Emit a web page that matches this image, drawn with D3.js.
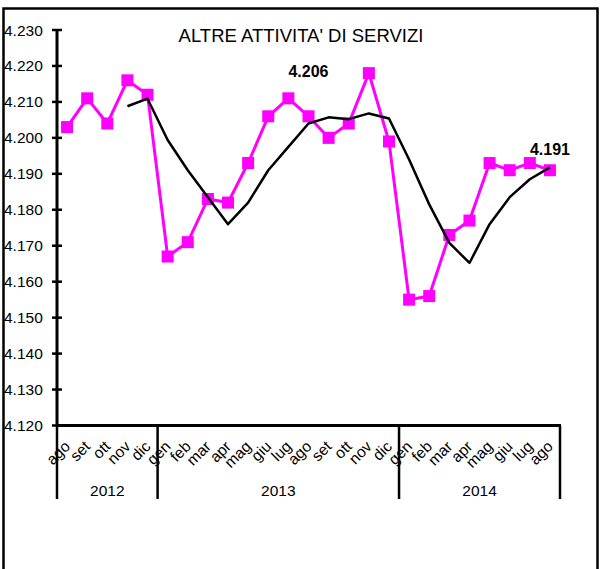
<!DOCTYPE html>
<html lang="it">
<head>
<meta charset="utf-8" />
<title>Altre attività di servizi</title>
<script src="https://d3js.org/d3.v7.min.js"></script>
<style>
  html, body { margin:0; padding:0; background:#fff; }
  svg { display:block; font-family: "Liberation Sans", Arial, sans-serif; }
</style>
</head>
<body>
<svg id="svg" width="601" height="569"></svg>
<script>
// months from ago 2012 to ago 2014
const months = ["ago","set","ott","nov","dic",
  "gen","feb","mar","apr","mag","giu","lug","ago","set","ott","nov","dic",
  "gen","feb","mar","apr","mag","giu","lug","ago"];
const years = [
  {label: "2012", from: 0, to: 5},
  {label: "2013", from: 5, to: 17},
  {label: "2014", from: 17, to: 25}
];
// monthly values (pink)
const values = [4.203, 4.211, 4.204, 4.216, 4.212,
  4.167, 4.171, 4.183, 4.182, 4.193, 4.206, 4.211, 4.206, 4.200, 4.204, 4.218, 4.199,
  4.155, 4.156, 4.173, 4.177, 4.193, 4.191, 4.193, 4.191];
// moving average (black), starts at nov 2012
const trend = [null, null, null, 4.2088, 4.2109,
  4.1994, 4.1910, 4.1835, 4.1760, 4.1820, 4.1910, 4.1975, 4.2040, 4.2057, 4.2052, 4.2068, 4.2054,
  4.1940, 4.1815, 4.1708, 4.1652, 4.1760, 4.1835, 4.1885, 4.1918];
const yTicks = d3.range(4.120, 4.2301, 0.010);
// labelled values, placed above their points
const notes = [{i: 12, text: "4.206", at: 4.2168}, {i: 24, text: "4.191", at: 4.1952}];

const svg = d3.select("#svg");
const mLeft = 57, mRight = 560, mTop = 30, mBottom = 425.5;

const x = d3.scaleBand().domain(d3.range(months.length)).range([mLeft, mRight]);
const y = d3.scaleLinear().domain([4.120, 4.230]).range([mBottom, mTop]);
const cx = i => x(i) + x.bandwidth() / 2;

// outer frame
svg.append("rect")
  .attr("x", 3.5).attr("y", 8.5).attr("width", 594).attr("height", 580)
  .attr("fill", "none").attr("stroke", "#000").attr("stroke-width", 2.5);

// title
svg.append("text")
  .attr("x", 301).attr("y", 42)
  .attr("text-anchor", "middle")
  .attr("font-size", 18.5)
  .text("ALTRE ATTIVITA'  DI SERVIZI");

// y axis
const yAxis = svg.append("g");
yAxis.append("line")
  .attr("x1", mLeft).attr("x2", mLeft).attr("y1", mTop).attr("y2", mBottom)
  .attr("stroke", "#000").attr("stroke-width", 3);
yAxis.selectAll("line.tk").data(yTicks).join("line")
  .attr("class", "tk")
  .attr("x1", mLeft - 5).attr("x2", mLeft + 5)
  .attr("y1", d => y(d)).attr("y2", d => y(d))
  .attr("stroke", "#000").attr("stroke-width", 2.5);
yAxis.selectAll("text.lab").data(yTicks).join("text")
  .attr("class", "lab")
  .attr("x", 4).attr("y", d => y(d) + 5.5)
  .attr("font-size", 15.5)
  .text(d => d3.format(".3f")(d));

// x axis
svg.append("line")
  .attr("x1", mLeft).attr("x2", mRight + 1).attr("y1", mBottom).attr("y2", mBottom)
  .attr("stroke", "#000").attr("stroke-width", 3);
const seps = [0].concat(years.map(d => d.to));
const sepX = d => d === months.length ? mRight : x(d);
svg.selectAll("line.sep").data(seps).join("line")
  .attr("class", "sep")
  .attr("x1", sepX).attr("x2", sepX)
  .attr("y1", mBottom).attr("y2", 499)
  .attr("stroke", "#000").attr("stroke-width", 2.5);

svg.selectAll("text.month").data(months).join("text")
  .attr("class", "month")
  .attr("x", (d, i) => cx(i) + 4)
  .attr("y", mBottom + 22)
  .attr("transform", (d, i) => "rotate(-45 " + (cx(i) + 4) + " " + (mBottom + 22) + ")")
  .attr("text-anchor", "end")
  .attr("font-size", 15.5)
  .text(d => d);

svg.selectAll("text.year").data(years).join("text")
  .attr("class", "year")
  .attr("x", d => (x(d.from) + sepX(d.to)) / 2)
  .attr("y", 496)
  .attr("text-anchor", "middle")
  .attr("font-size", 15.5)
  .text(d => d.label);

// series
const line = d3.line().defined(d => d[1] != null).x(d => cx(d[0])).y(d => y(d[1]));
svg.append("path")
  .attr("d", line(values.map((v, i) => [i, v])))
  .attr("fill", "none").attr("stroke", "#ff00ff").attr("stroke-width", 3);
svg.selectAll("rect.mk").data(values).join("rect")
  .attr("class", "mk")
  .attr("x", (d, i) => cx(i) - 6).attr("y", d => y(d) - 6)
  .attr("width", 12).attr("height", 12)
  .attr("fill", "#ff00ff");
svg.append("path")
  .attr("d", line(trend.map((v, i) => [i, v])))
  .attr("fill", "none").attr("stroke", "#000").attr("stroke-width", 2.5)
  .attr("stroke-linejoin", "round");

// value notes
svg.selectAll("text.note").data(notes).join("text")
  .attr("class", "note")
  .attr("x", d => cx(d.i)).attr("y", d => y(d.at))
  .attr("text-anchor", "middle")
  .attr("font-size", 16).attr("font-weight", "bold")
  .text(d => d.text);
</script>
</body>
</html>
